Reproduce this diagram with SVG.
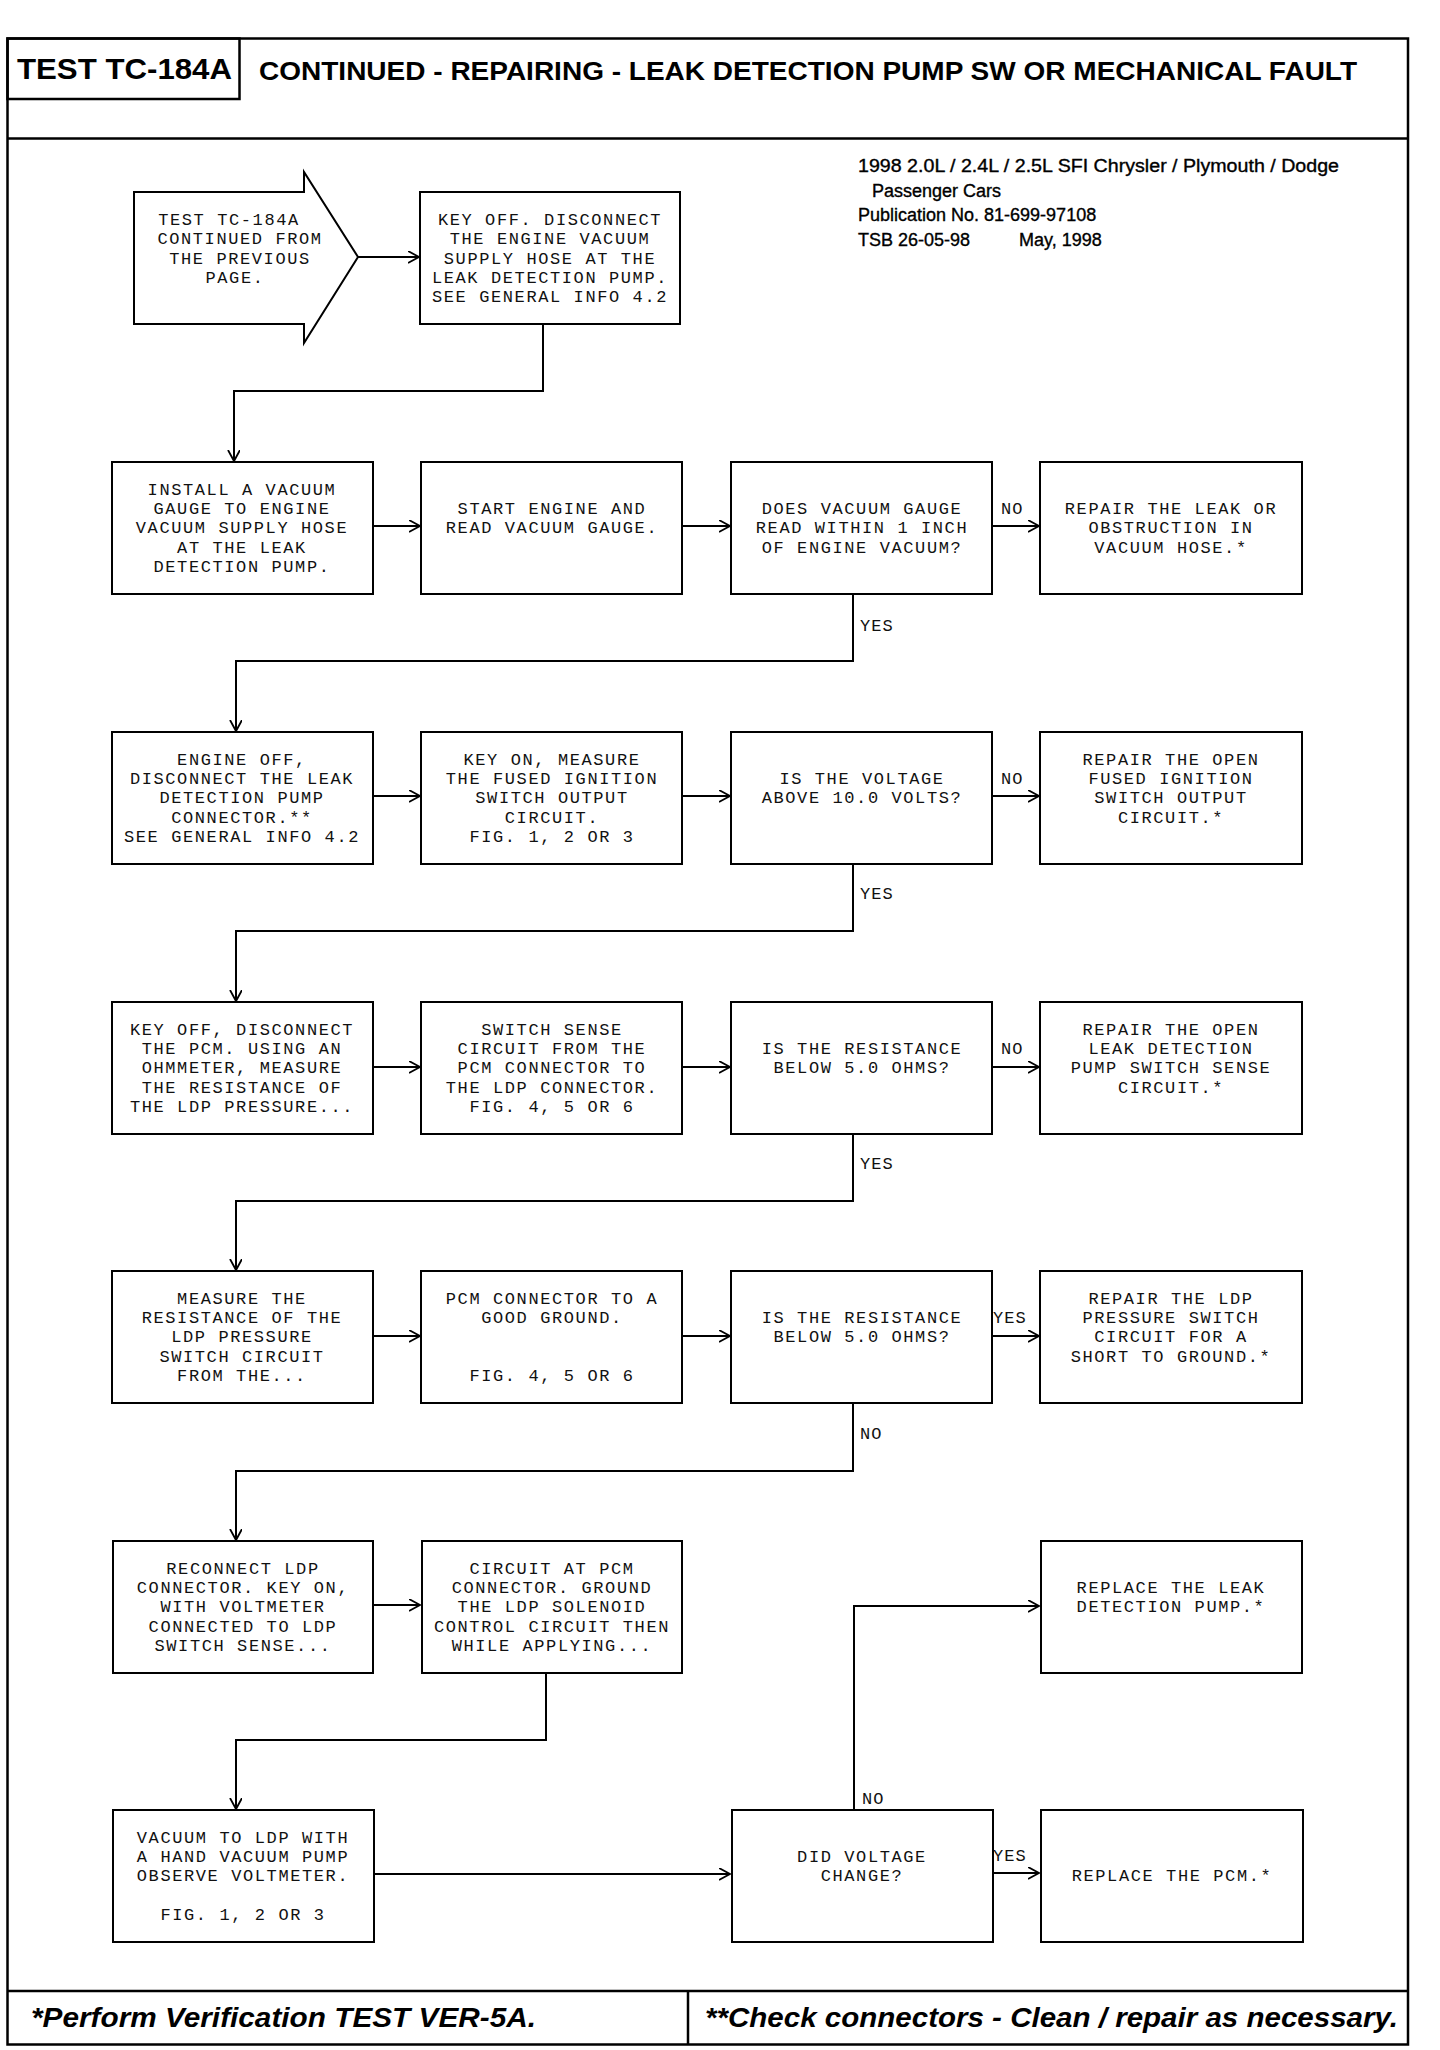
<svg xmlns="http://www.w3.org/2000/svg" width="1440" height="2050" viewBox="0 0 1440 2050">
<style>
.frame{fill:none;stroke:#000;stroke-width:2.5}
.box{fill:#fff;stroke:#000;stroke-width:2}
.t{font-family:"Liberation Mono","DejaVu Sans Mono",monospace;font-size:17px;letter-spacing:1.6px;fill:#111;text-anchor:middle}
.lbl{font-family:"Liberation Mono","DejaVu Sans Mono",monospace;font-size:17px;letter-spacing:1px;fill:#111}
.conn{fill:none;stroke:#000;stroke-width:2}
.hdr{font-family:"Liberation Sans",Arial,sans-serif;font-weight:bold;fill:#000}
.info{font-family:"Liberation Sans",Arial,sans-serif;font-size:18px;fill:#000;stroke:#000;stroke-width:0.35}
.foot{font-family:"Liberation Sans",Arial,sans-serif;font-weight:bold;font-style:italic;font-size:28px;fill:#000}
</style>
<defs>
<marker id="arr" markerWidth="14" markerHeight="14" refX="11" refY="6" orient="auto" markerUnits="userSpaceOnUse">
<path d="M0,0 L11,6 L0,12" fill="none" stroke="#000" stroke-width="1.8"/>
</marker>
</defs>
<rect width="1440" height="2050" fill="#fff"/>

<g id="frame">
<rect class="frame" x="7.5" y="38.5" width="1400.5" height="2006"/>
<rect class="frame" x="7.5" y="38.5" width="232" height="60.5"/>
<line class="frame" x1="7.5" y1="138.5" x2="1408" y2="138.5" stroke-width="3"/>
<line class="frame" x1="7.5" y1="1991" x2="1408" y2="1991" stroke-width="3"/>
<line class="frame" x1="688" y1="1991" x2="688" y2="2044.5"/>
<text class="hdr" x="17" y="79" font-size="30" textLength="215" lengthAdjust="spacingAndGlyphs">TEST TC-184A</text>
<text class="hdr" x="259" y="80" font-size="26" textLength="1098" lengthAdjust="spacingAndGlyphs">CONTINUED - REPAIRING - LEAK DETECTION PUMP SW OR MECHANICAL FAULT</text>
<text class="info" x="858" y="172" textLength="481" lengthAdjust="spacingAndGlyphs">1998 2.0L / 2.4L / 2.5L SFI Chrysler / Plymouth / Dodge</text>
<text class="info" x="872" y="197">Passenger Cars</text>
<text class="info" x="858" y="221">Publication No. 81-699-97108</text>
<text class="info" x="858" y="246">TSB 26-05-98</text>
<text class="info" x="1019" y="246">May, 1998</text>
<text class="foot" x="31" y="2027" textLength="505" lengthAdjust="spacingAndGlyphs">*Perform Verification TEST VER-5A.</text>
<text class="foot" x="705" y="2027" textLength="693" lengthAdjust="spacingAndGlyphs">**Check connectors - Clean / repair as necessary.</text>
</g>

<g id="connectors">
<line class="conn" x1="358" y1="257" x2="419" y2="257" marker-end="url(#arr)"/>
<polyline class="conn" points="543,324 543,391 234,391 234,461" marker-end="url(#arr)"/>
<line class="conn" x1="373" y1="526" x2="420" y2="526" marker-end="url(#arr)"/>
<line class="conn" x1="682" y1="526" x2="730" y2="526" marker-end="url(#arr)"/>
<line class="conn" x1="992" y1="526" x2="1039" y2="526" marker-end="url(#arr)"/>
<polyline class="conn" points="853,594 853,661 236,661 236,731" marker-end="url(#arr)"/>
<line class="conn" x1="373" y1="796" x2="420" y2="796" marker-end="url(#arr)"/>
<line class="conn" x1="682" y1="796" x2="730" y2="796" marker-end="url(#arr)"/>
<line class="conn" x1="992" y1="796" x2="1039" y2="796" marker-end="url(#arr)"/>
<polyline class="conn" points="853,864 853,931 236,931 236,1001" marker-end="url(#arr)"/>
<line class="conn" x1="373" y1="1067" x2="420" y2="1067" marker-end="url(#arr)"/>
<line class="conn" x1="682" y1="1067" x2="730" y2="1067" marker-end="url(#arr)"/>
<line class="conn" x1="992" y1="1067" x2="1039" y2="1067" marker-end="url(#arr)"/>
<polyline class="conn" points="853,1134 853,1201 236,1201 236,1270" marker-end="url(#arr)"/>
<line class="conn" x1="373" y1="1336" x2="420" y2="1336" marker-end="url(#arr)"/>
<line class="conn" x1="682" y1="1336" x2="730" y2="1336" marker-end="url(#arr)"/>
<line class="conn" x1="992" y1="1336" x2="1039" y2="1336" marker-end="url(#arr)"/>
<polyline class="conn" points="853,1403 853,1471 236,1471 236,1540" marker-end="url(#arr)"/>
<line class="conn" x1="373" y1="1605" x2="420" y2="1605" marker-end="url(#arr)"/>
<polyline class="conn" points="546,1673 546,1740 236,1740 236,1809" marker-end="url(#arr)"/>
<line class="conn" x1="374" y1="1874" x2="730" y2="1874" marker-end="url(#arr)"/>
<polyline class="conn" points="854,1810 854,1606 1039,1606" marker-end="url(#arr)"/>
<line class="conn" x1="992" y1="1873" x2="1039" y2="1873" marker-end="url(#arr)"/>
<text class="lbl" x="1001" y="514">NO</text>
<text class="lbl" x="860" y="631">YES</text>
<text class="lbl" x="1001" y="784">NO</text>
<text class="lbl" x="860" y="899">YES</text>
<text class="lbl" x="1001" y="1054">NO</text>
<text class="lbl" x="860" y="1169">YES</text>
<text class="lbl" x="993" y="1323">YES</text>
<text class="lbl" x="860" y="1439">NO</text>
<text class="lbl" x="862" y="1804">NO</text>
<text class="lbl" x="993" y="1861">YES</text>
</g>

<g id="n_start">
<polygon class="box" points="134,192 304,192 304,172 358,257 304,343 304,324 134,324"/>
<text class="t" x="229" y="225">TEST TC-184A</text>
<text class="t" x="240" y="244">CONTINUED FROM</text>
<text class="t" x="240" y="264">THE PREVIOUS</text>
<text class="t" x="235" y="283">PAGE.</text>
</g>
<g id="n_keyoff">
<rect class="box" x="420" y="192" width="260" height="132"/>
<text class="t" x="550" y="225">KEY OFF. DISCONNECT</text>
<text class="t" x="550" y="244">THE ENGINE VACUUM</text>
<text class="t" x="550" y="264">SUPPLY HOSE AT THE</text>
<text class="t" x="550" y="283">LEAK DETECTION PUMP.</text>
<text class="t" x="550" y="302">SEE GENERAL INFO 4.2</text>
</g>

<g id="n_install">
<rect class="box" x="112" y="462" width="261" height="132"/>
<text class="t" x="242" y="495">INSTALL A VACUUM</text>
<text class="t" x="242" y="514">GAUGE TO ENGINE</text>
<text class="t" x="242" y="533">VACUUM SUPPLY HOSE</text>
<text class="t" x="242" y="553">AT THE LEAK</text>
<text class="t" x="242" y="572">DETECTION PUMP.</text>
</g>
<g id="n_start_engine">
<rect class="box" x="421" y="462" width="261" height="132"/>
<text class="t" x="552" y="514">START ENGINE AND</text>
<text class="t" x="552" y="533">READ VACUUM GAUGE.</text>
</g>
<g id="n_does_vacuum">
<rect class="box" x="731" y="462" width="261" height="132"/>
<text class="t" x="862" y="514">DOES VACUUM GAUGE</text>
<text class="t" x="862" y="533">READ WITHIN 1 INCH</text>
<text class="t" x="862" y="553">OF ENGINE VACUUM?</text>
</g>
<g id="n_repair_leak">
<rect class="box" x="1040" y="462" width="262" height="132"/>
<text class="t" x="1171" y="514">REPAIR THE LEAK OR</text>
<text class="t" x="1171" y="533">OBSTRUCTION IN</text>
<text class="t" x="1171" y="553">VACUUM HOSE.*</text>
</g>

<g id="n_engine_off">
<rect class="box" x="112" y="732" width="261" height="132"/>
<text class="t" x="242" y="765">ENGINE OFF,</text>
<text class="t" x="242" y="784">DISCONNECT THE LEAK</text>
<text class="t" x="242" y="803">DETECTION PUMP</text>
<text class="t" x="242" y="823">CONNECTOR.**</text>
<text class="t" x="242" y="842">SEE GENERAL INFO 4.2</text>
</g>
<g id="n_key_on">
<rect class="box" x="421" y="732" width="261" height="132"/>
<text class="t" x="552" y="765">KEY ON, MEASURE</text>
<text class="t" x="552" y="784">THE FUSED IGNITION</text>
<text class="t" x="552" y="803">SWITCH OUTPUT</text>
<text class="t" x="552" y="823">CIRCUIT.</text>
<text class="t" x="552" y="842">FIG. 1, 2 OR 3</text>
</g>
<g id="n_voltage">
<rect class="box" x="731" y="732" width="261" height="132"/>
<text class="t" x="862" y="784">IS THE VOLTAGE</text>
<text class="t" x="862" y="803">ABOVE 10.0 VOLTS?</text>
</g>
<g id="n_repair_fused">
<rect class="box" x="1040" y="732" width="262" height="132"/>
<text class="t" x="1171" y="765">REPAIR THE OPEN</text>
<text class="t" x="1171" y="784">FUSED IGNITION</text>
<text class="t" x="1171" y="803">SWITCH OUTPUT</text>
<text class="t" x="1171" y="823">CIRCUIT.*</text>
</g>

<g id="n_key_off_pcm">
<rect class="box" x="112" y="1002" width="261" height="132"/>
<text class="t" x="242" y="1035">KEY OFF, DISCONNECT</text>
<text class="t" x="242" y="1054">THE PCM. USING AN</text>
<text class="t" x="242" y="1073">OHMMETER, MEASURE</text>
<text class="t" x="242" y="1093">THE RESISTANCE OF</text>
<text class="t" x="242" y="1112">THE LDP PRESSURE...</text>
</g>
<g id="n_switch_sense">
<rect class="box" x="421" y="1002" width="261" height="132"/>
<text class="t" x="552" y="1035">SWITCH SENSE</text>
<text class="t" x="552" y="1054">CIRCUIT FROM THE</text>
<text class="t" x="552" y="1073">PCM CONNECTOR TO</text>
<text class="t" x="552" y="1093">THE LDP CONNECTOR.</text>
<text class="t" x="552" y="1112">FIG. 4, 5 OR 6</text>
</g>
<g id="n_resistance1">
<rect class="box" x="731" y="1002" width="261" height="132"/>
<text class="t" x="862" y="1054">IS THE RESISTANCE</text>
<text class="t" x="862" y="1073">BELOW 5.0 OHMS?</text>
</g>
<g id="n_repair_sense">
<rect class="box" x="1040" y="1002" width="262" height="132"/>
<text class="t" x="1171" y="1035">REPAIR THE OPEN</text>
<text class="t" x="1171" y="1054">LEAK DETECTION</text>
<text class="t" x="1171" y="1073">PUMP SWITCH SENSE</text>
<text class="t" x="1171" y="1093">CIRCUIT.*</text>
</g>

<g id="n_measure">
<rect class="box" x="112" y="1271" width="261" height="132"/>
<text class="t" x="242" y="1304">MEASURE THE</text>
<text class="t" x="242" y="1323">RESISTANCE OF THE</text>
<text class="t" x="242" y="1342">LDP PRESSURE</text>
<text class="t" x="242" y="1362">SWITCH CIRCUIT</text>
<text class="t" x="242" y="1381">FROM THE...</text>
</g>
<g id="n_pcm_ground">
<rect class="box" x="421" y="1271" width="261" height="132"/>
<text class="t" x="552" y="1304">PCM CONNECTOR TO A</text>
<text class="t" x="552" y="1323">GOOD GROUND.</text>
<text class="t" x="552" y="1381">FIG. 4, 5 OR 6</text>
</g>
<g id="n_resistance2">
<rect class="box" x="731" y="1271" width="261" height="132"/>
<text class="t" x="862" y="1323">IS THE RESISTANCE</text>
<text class="t" x="862" y="1342">BELOW 5.0 OHMS?</text>
</g>
<g id="n_repair_short">
<rect class="box" x="1040" y="1271" width="262" height="132"/>
<text class="t" x="1171" y="1304">REPAIR THE LDP</text>
<text class="t" x="1171" y="1323">PRESSURE SWITCH</text>
<text class="t" x="1171" y="1342">CIRCUIT FOR A</text>
<text class="t" x="1171" y="1362">SHORT TO GROUND.*</text>
</g>

<g id="n_reconnect">
<rect class="box" x="113" y="1541" width="260" height="132"/>
<text class="t" x="243" y="1574">RECONNECT LDP</text>
<text class="t" x="243" y="1593">CONNECTOR. KEY ON,</text>
<text class="t" x="243" y="1612">WITH VOLTMETER</text>
<text class="t" x="243" y="1632">CONNECTED TO LDP</text>
<text class="t" x="243" y="1651">SWITCH SENSE...</text>
</g>
<g id="n_circuit_pcm">
<rect class="box" x="422" y="1541" width="260" height="132"/>
<text class="t" x="552" y="1574">CIRCUIT AT PCM</text>
<text class="t" x="552" y="1593">CONNECTOR. GROUND</text>
<text class="t" x="552" y="1612">THE LDP SOLENOID</text>
<text class="t" x="552" y="1632">CONTROL CIRCUIT THEN</text>
<text class="t" x="552" y="1651">WHILE APPLYING...</text>
</g>
<g id="n_replace_pump">
<rect class="box" x="1041" y="1541" width="261" height="132"/>
<text class="t" x="1171" y="1593">REPLACE THE LEAK</text>
<text class="t" x="1171" y="1612">DETECTION PUMP.*</text>
</g>

<g id="n_vacuum_ldp">
<rect class="box" x="113" y="1810" width="261" height="132"/>
<text class="t" x="243" y="1843">VACUUM TO LDP WITH</text>
<text class="t" x="243" y="1862">A HAND VACUUM PUMP</text>
<text class="t" x="243" y="1881">OBSERVE VOLTMETER.</text>
<text class="t" x="243" y="1920">FIG. 1, 2 OR 3</text>
</g>
<g id="n_did_voltage">
<rect class="box" x="732" y="1810" width="261" height="132"/>
<text class="t" x="862" y="1862">DID VOLTAGE</text>
<text class="t" x="862" y="1881">CHANGE?</text>
</g>
<g id="n_replace_pcm">
<rect class="box" x="1041" y="1810" width="262" height="132"/>
<text class="t" x="1172" y="1881">REPLACE THE PCM.*</text>
</g>
</svg>
